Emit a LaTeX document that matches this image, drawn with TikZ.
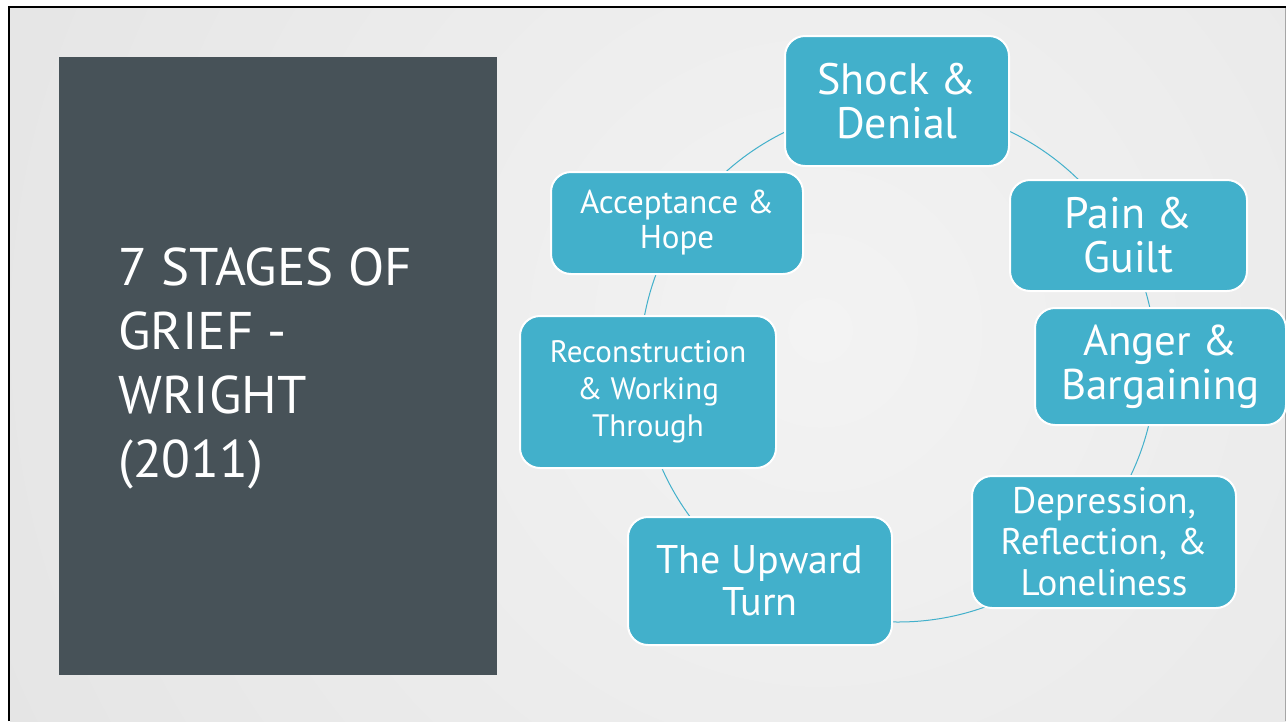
\documentclass[tikz,border=0pt]{standalone}
\usepackage{fontspec}
\setmainfont{PT Sans}
\begin{document}
\begin{tikzpicture}[x=1pt,y=-1pt,
  stage/.style={rectangle, rounded corners=20pt, fill=stagefill, draw=white,
    line width=2pt, text=white, align=center, inner sep=0pt, anchor=center},
  ring/.style={draw=stagefill, line width=1pt}]
\definecolor{stagefill}{RGB}{66,176,203}
\definecolor{panel}{RGB}{71,82,88}
\definecolor{slidebg}{RGB}{216,216,216}
\definecolor{slidelight}{RGB}{243,243,243}
\useasboundingbox (0,0) rectangle (1286,721);
\fill[white] (0,0) rectangle (1286,721);
% slide background with a soft radial light
\begin{scope}
  \clip (10,8) rectangle (1286,721);
  \shade[inner color=slidelight, outer color=slidebg] (820,330) circle[radius=1750];
\end{scope}
\draw[black, line width=2.5pt] (9,721) -- (9,7) -- (1286,7);
\draw[gray!70, line width=0.8pt] (1285.4,8) -- (1285.4,721);
% title panel
\fill[panel] (59,57) rectangle (497,675);
\node[anchor=west, align=left, text=white, inner sep=0pt,
  font=\fontsize{53}{64}\selectfont] (title) at (118,368)
  {7 STAGES OF\\GRIEF -\\WRIGHT\\(2011)};
% cycle ring
\coordinate (c) at (898,364);
\draw[ring] (c) circle[radius=258];
% stages
\node[stage, minimum width=224pt, minimum height=130pt,
  font=\fontsize{44}{44}\selectfont] (shock) at (897,101) {Shock \&\\Denial};
\node[stage, minimum width=237pt, minimum height=111pt,
  font=\fontsize{44}{44}\selectfont] (pain) at (1128.5,235.5) {Pain \&\\Guilt};
\node[stage, minimum width=251pt, minimum height=117pt,
  font=\fontsize{43}{44}\selectfont] (anger) at (1160.5,366.5) {Anger \&\\Bargaining};
\node[stage, minimum width=264pt, minimum height=132pt,
  font=\fontsize{37}{41}\selectfont] (depr) at (1104,542) {Depression,\\Reflection, \&\\Loneliness};
\node[stage, minimum width=264pt, minimum height=128pt,
  font=\fontsize{40}{42}\selectfont] (turn) at (760,581) {The Upward\\Turn};
\node[stage, minimum width=256pt, minimum height=152pt,
  font=\fontsize{31}{37}\selectfont] (recon) at (648,392) {Reconstruction\\\& Working\\Through};
\node[stage, minimum width=252pt, minimum height=102pt,
  font=\fontsize{33}{35}\selectfont] (accept) at (677,223) {Acceptance \&\\Hope};
\end{tikzpicture}
\end{document}
